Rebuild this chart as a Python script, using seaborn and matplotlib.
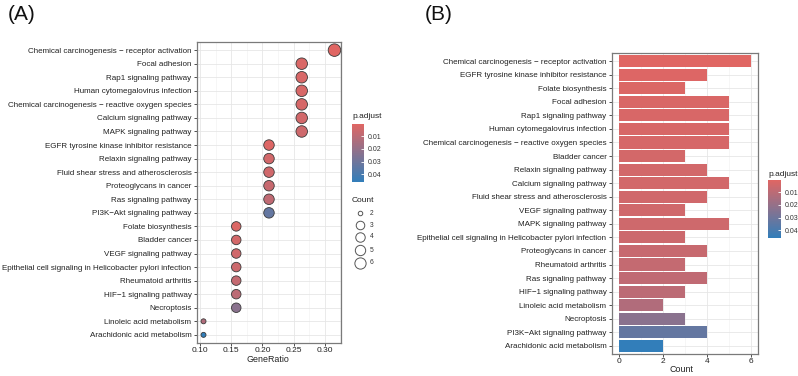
import matplotlib
matplotlib.use("Agg")
import matplotlib.pyplot as plt
import numpy as np
import pandas as pd
import seaborn as sns
from matplotlib.colors import LinearSegmentedColormap, Normalize
from matplotlib.lines import Line2D
from matplotlib.cm import ScalarMappable

# pathway terms, counts and adjusted p-values
terms = [
    "Chemical carcinogenesis - receptor activation",
    "EGFR tyrosine kinase inhibitor resistance",
    "Folate biosynthesis",
    "Focal adhesion",
    "Rap1 signaling pathway",
    "Human cytomegalovirus infection",
    "Chemical carcinogenesis - reactive oxygen species",
    "Bladder cancer",
    "Relaxin signaling pathway",
    "Calcium signaling pathway",
    "Fluid shear stress and atherosclerosis",
    "VEGF signaling pathway",
    "MAPK signaling pathway",
    "Epithelial cell signaling in Helicobacter pylori infection",
    "Proteoglycans in cancer",
    "Rheumatoid arthritis",
    "Ras signaling pathway",
    "HIF-1 signaling pathway",
    "Linoleic acid metabolism",
    "Necroptosis",
    "PI3K-Akt signaling pathway",
    "Arachidonic acid metabolism",
]
counts = [6, 4, 3, 5, 5, 5, 5, 3, 4, 5, 4, 3, 5, 3, 4, 3, 4, 3, 2, 3, 4, 2]
padj = [0.0006, 0.0015, 0.0020, 0.0025, 0.0028, 0.0030, 0.0032, 0.0040, 0.0042,
        0.0045, 0.0048, 0.0050, 0.0055, 0.0060, 0.0070, 0.0080, 0.0090, 0.0100,
        0.0130, 0.0230, 0.0330, 0.0460]
gene_total = 19

# dot plot row order (top to bottom)
dot_order = [
    "Chemical carcinogenesis - receptor activation",
    "Focal adhesion",
    "Rap1 signaling pathway",
    "Human cytomegalovirus infection",
    "Chemical carcinogenesis - reactive oxygen species",
    "Calcium signaling pathway",
    "MAPK signaling pathway",
    "EGFR tyrosine kinase inhibitor resistance",
    "Relaxin signaling pathway",
    "Fluid shear stress and atherosclerosis",
    "Proteoglycans in cancer",
    "Ras signaling pathway",
    "PI3K-Akt signaling pathway",
    "Folate biosynthesis",
    "Bladder cancer",
    "VEGF signaling pathway",
    "Epithelial cell signaling in Helicobacter pylori infection",
    "Rheumatoid arthritis",
    "HIF-1 signaling pathway",
    "Necroptosis",
    "Linoleic acid metabolism",
    "Arachidonic acid metabolism",
]

df = pd.DataFrame({"Description": terms, "Count": counts, "p.adjust": padj})
df["GeneRatio"] = df["Count"] / gene_total
df["label"] = df["Description"].str.replace("-", "\u2212")

W, H = 798, 376
DPI = 100
plt.rcParams["font.family"] = ["Liberation Sans", "DejaVu Sans"]

cmap = LinearSegmentedColormap.from_list("enrich", ["#e06663", "#327eba"])
norm = Normalize(vmin=min(padj), vmax=max(padj))

grid_col = "#e6e6e6"
lab_fs = 5.8


def px_box(x0, y0, x1, y1):
    return [x0 / W, 1 - y1 / H, (x1 - x0) / W, (y1 - y0) / H]


def style_axis(ax):
    ax.set_facecolor("white")
    for s in ax.spines.values():
        s.set_color("#7a7a7a")
        s.set_linewidth(0.9)
    ax.grid(True, which="major", color=grid_col, linewidth=0.6)
    ax.grid(True, which="minor", axis="x", color="#f0f0f0", linewidth=0.4)
    ax.set_axisbelow(True)
    ax.tick_params(axis="y", which="major", length=2.5, width=0.6, color="#333333",
                   labelsize=lab_fs, labelcolor="#222222", pad=1.5)
    ax.tick_params(axis="x", which="major", length=2, width=0.6, color="#333333",
                   labelsize=6, labelcolor="#222222", pad=0.8)
    ax.tick_params(axis="both", which="minor", length=0)


def draw_colorbar(fig, box, title_xy):
    cax = fig.add_axes(px_box(*box))
    cb = fig.colorbar(ScalarMappable(norm=norm, cmap=cmap), cax=cax)
    cb.outline.set_visible(False)
    cax.invert_yaxis()
    cb.set_ticks([0.01, 0.02, 0.03, 0.04])
    cb.set_ticklabels(["0.01", "0.02", "0.03", "0.04"])
    cax.tick_params(length=2.5, width=0.6, color="white", direction="in",
                    labelsize=5, labelcolor="#333333", pad=3)
    fig.text(title_xy[0] / W, 1 - title_xy[1] / H, "p.adjust", fontsize=6,
             color="#222222", va="center", ha="left")


fig = plt.figure(figsize=(W / DPI, H / DPI), dpi=DPI)

# ---- (A) dot plot ----
ax1 = fig.add_axes(px_box(197, 42, 341, 343))
dfd = df.set_index("Description").loc[dot_order].reset_index()
size_px = {2: 5.0, 3: 9.5, 4: 10.5, 5: 11.5, 6: 12.5}
sizes = {k: (v / (DPI / 72)) ** 2 for k, v in size_px.items()}
sns.scatterplot(data=dfd, x="GeneRatio", y="label", hue="p.adjust", palette=cmap,
                hue_norm=norm, size="Count", sizes=sizes, edgecolor="#3a3a3a",
                linewidth=0.6, legend=False, ax=ax1, zorder=3)
ax1.set_xlim(0.0948, 0.3263)
ax1.set_ylim(len(dot_order) - 0.4, -0.6)
ax1.set_xticks([0.10, 0.15, 0.20, 0.25, 0.30])
ax1.set_xticklabels(["0.10", "0.15", "0.20", "0.25", "0.30"])
ax1.set_xticks(np.arange(0.125, 0.33, 0.05), minor=True)
style_axis(ax1)
ax1.set_xlabel("")
ax1.set_ylabel("")
fig.text(268 / W, 1 - 360 / H, "GeneRatio", fontsize=6.4, color="#222222",
         ha="center", va="center")

draw_colorbar(fig, (352, 124, 364, 182), (352, 117))

# Count size legend
fig.text(352 / W, 1 - 201 / H, "Count", fontsize=6, color="#222222", va="center")
leg_y = [213, 225, 237, 250, 263]
for k, yy in zip([2, 3, 4, 5, 6], leg_y):
    fig.add_artist(Line2D([360 / W], [1 - yy / H], marker="o", linestyle="",
                          markersize=size_px[k] / (DPI / 72) * 0.9, markerfacecolor="none",
                          markeredgecolor="#555555", markeredgewidth=0.7))
    fig.text(370 / W, 1 - yy / H, str(k), fontsize=4.8, color="#333333", va="center")

# ---- (B) bar plot ----
ax2 = fig.add_axes(px_box(612, 53, 758, 354))
bar_pal = {lab: cmap(norm(p)) for lab, p in zip(df["label"], df["p.adjust"])}
sns.barplot(data=df, x="Count", y="label", hue="label", palette=bar_pal, width=0.9,
            saturation=1, orient="h", legend=False, ax=ax2, zorder=3, edgecolor="none")
ax2.set_xlim(-0.3, 6.3)
ax2.set_ylim(len(terms) - 0.4, -0.6)
ax2.set_xticks([0, 2, 4, 6])
ax2.set_xticks([1, 3, 5], minor=True)
style_axis(ax2)
ax2.set_xlabel("")
ax2.set_ylabel("")
fig.text(681 / W, 1 - 370 / H, "Count", fontsize=6.4, color="#222222",
         ha="center", va="center")

draw_colorbar(fig, (768, 180, 781, 238), (768, 174))

# panel tags
fig.text(8 / W, 1 - 14 / H, "(A)", fontsize=15, color="#111111", va="center")
fig.text(425 / W, 1 - 14 / H, "(B)", fontsize=15, color="#111111", va="center")

fig.savefig("out.png", dpi=DPI)
